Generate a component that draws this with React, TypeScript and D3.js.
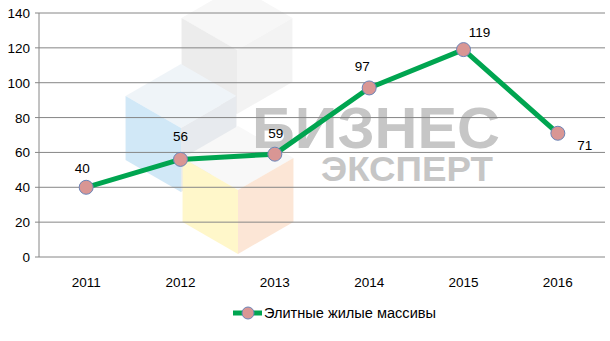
import React from "react";
import * as d3 from "d3";

const years = ["2011", "2012", "2013", "2014", "2015", "2016"];
const values = [40, 56, 59, 97, 119, 71];
const yTicks = [0, 20, 40, 60, 80, 100, 120, 140];
const seriesName = "Элитные жилые массивы";

const W = 610, H = 341;
const left = 39, right = 605, top = 13, bottom = 257;
const font = "'Liberation Sans', Arial, sans-serif";

function cube(cx: number, cy: number, r: number) {
  const dx = r * 0.866;
  const T = [cx, cy - r], UR = [cx + dx, cy - r / 2], LR = [cx + dx, cy + r / 2];
  const B = [cx, cy + r], LL = [cx - dx, cy + r / 2], UL = [cx - dx, cy - r / 2], C = [cx, cy];
  const p = (a: number[][]) => a.map((v) => v.join(",")).join(" ");
  return { top: p([T, UR, C, UL]), left: p([UL, C, B, LL]), right: p([C, UR, LR, B]) };
}

export default function App() {
  const x = d3.scalePoint<string>().domain(years).range([left, right]).padding(0.5);
  const y = d3.scaleLinear().domain([0, 140]).range([bottom, top]);
  const line = d3.line<number>().x((_, i) => x(years[i])!).y((d) => y(d));
  const gray = cube(237, 50, 64);
  const blue = cube(181, 128, 64);
  const yel = cube(238, 190, 64);
  const labelOffsets = [
    [-4, -14], [0, -18], [1, -16], [-7, -17], [16, -13], [27, 17],
  ];
  return (
    <svg width={W} height={H} style={{ display: "block", position: "absolute", left: 0, top: 0 }}>
      <rect width={W} height={H} fill="#fff" />
      {/* watermark */}
      <g opacity={0.6}>
        <polygon points={gray.top} fill="#f2f2f2" />
        <polygon points={gray.left} fill="#e0e0e0" />
        <polygon points={gray.right} fill="#ececec" />
        <polygon points={blue.top} fill="#e6eef5" />
        <polygon points={blue.left} fill="#b3d9f2" />
        <polygon points={blue.right} fill="#d8dde3" />
        <polygon points={yel.top} fill="#f4f4f4" />
        <polygon points={yel.left} fill="#fff2a8" />
        <polygon points={yel.right} fill="#fbd7bb" />
      </g>
      <text x={252} y={148} fontFamily={font} fontWeight="bold" fontSize={58} fill="#c6c6c6" textLength={248} lengthAdjust="spacingAndGlyphs">БИЗНЕС</text>
      <text x={321} y={181} fontFamily={font} fontWeight="bold" fontSize={35} fill="#c6c6c6" textLength={172} lengthAdjust="spacingAndGlyphs">ЭКСПЕРТ</text>
      {/* grid */}
      {yTicks.map((t) => (
        <g key={t}>
          <line x1={35} x2={right} y1={y(t)} y2={y(t)} stroke="#868686" strokeWidth={1} />
          <text x={30} y={y(t) + 5} textAnchor="end" fontFamily={font} fontSize={13.5} fill="#000">{t}</text>
        </g>
      ))}
      <line x1={left} x2={left} y1={top} y2={bottom} stroke="#868686" />
      {years.map((yr) => (
        <text key={yr} x={x(yr)} y={287} textAnchor="middle" fontFamily={font} fontSize={13.5} fill="#000">{yr}</text>
      ))}
      <path d={line(values)!} fill="none" stroke="#00a550" strokeWidth={5} strokeLinejoin="round" />
      {values.map((v, i) => (
        <g key={i}>
          <circle cx={x(years[i])} cy={y(v)} r={7} fill="#d99694" stroke="#6a84b8" strokeWidth={1} />
          <text x={x(years[i])! + labelOffsets[i][0]} y={y(v) + labelOffsets[i][1]} textAnchor="middle" fontFamily={font} fontSize={13.5} fill="#000">{v}</text>
        </g>
      ))}
      {/* legend */}
      <line x1={233} x2={262} y1={313} y2={313} stroke="#00a550" strokeWidth={5} />
      <circle cx={248} cy={313} r={6} fill="#d99694" stroke="#6a84b8" />
      <text x={264} y={318} fontFamily={font} fontSize={14} fill="#000" textLength={172} lengthAdjust="spacingAndGlyphs">{seriesName}</text>
    </svg>
  );
}
